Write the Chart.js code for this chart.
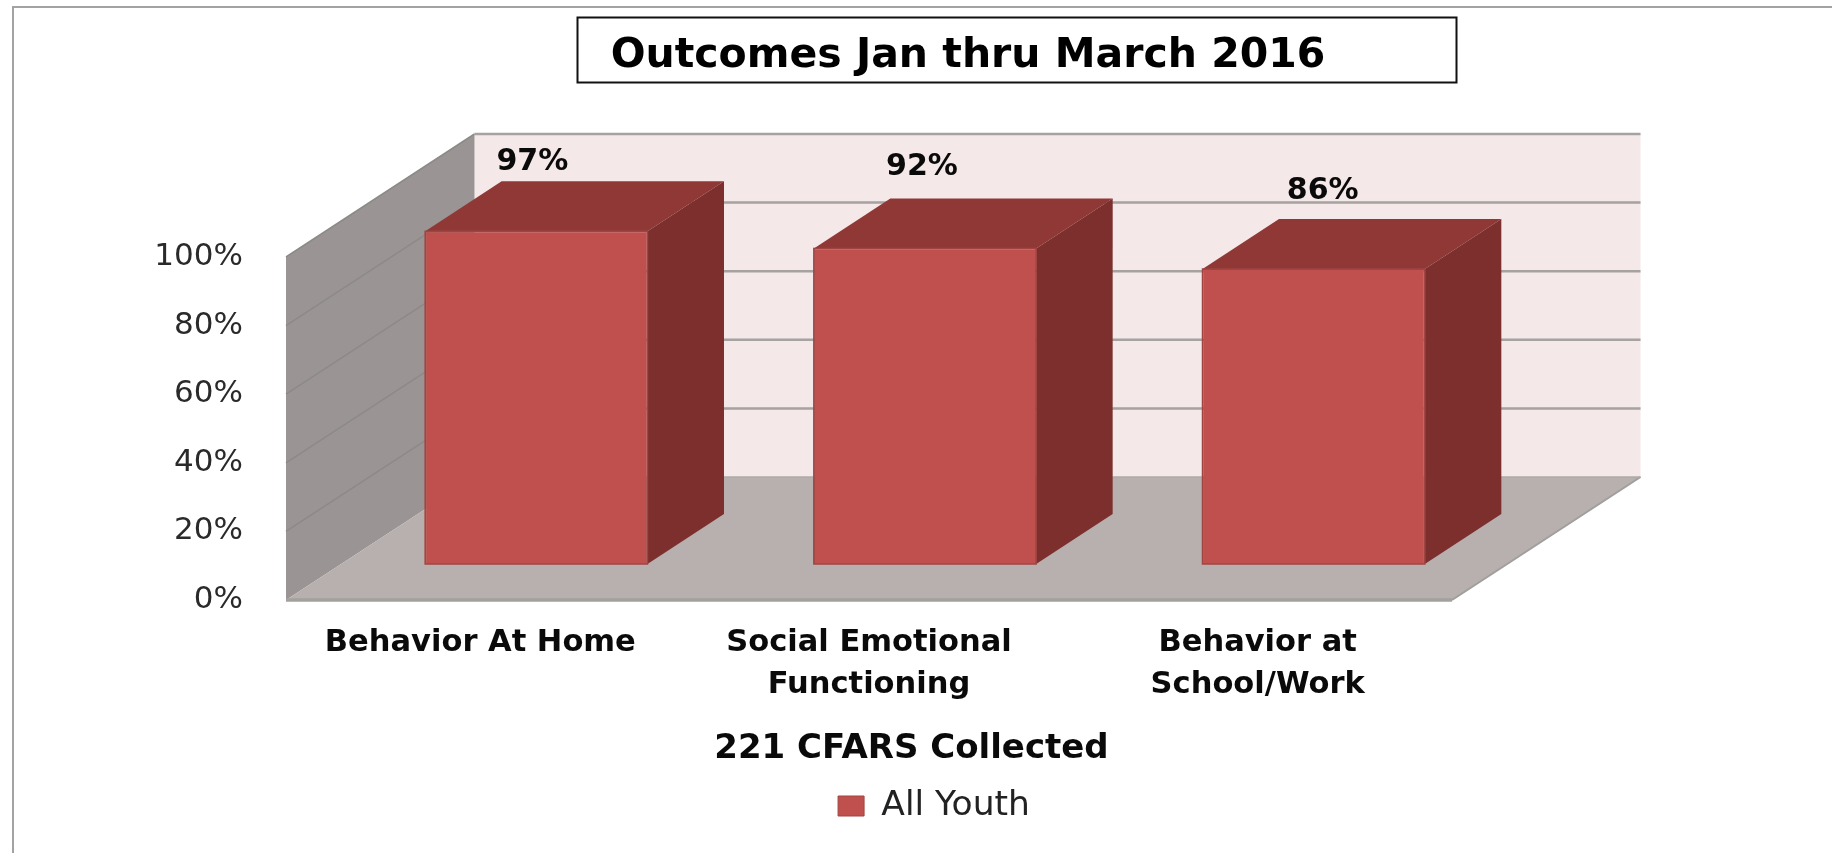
<!DOCTYPE html>
<html>
<head>
<meta charset="utf-8">
<style>html,body{margin:0;padding:0;background:#fff;overflow:hidden}canvas{display:block}</style>
<script src="https://cdn.jsdelivr.net/npm/chart.js@4/dist/chart.umd.min.js"></script>
</head>
<body>
<canvas id="c" width="1832" height="853"></canvas>
<script>
const categories = [["Behavior At Home"], ["Social Emotional", "Functioning"], ["Behavior at", "School/Work"]];
const seriesName = "All Youth";
const values = [97, 92, 86];
const chartTitle = "Outcomes Jan thru March 2016";
const axisTitle = "221 CFARS Collected";

const FONT = "'DejaVu Sans'";
// oblique projection of the Excel-style 3D chart
const wallDepth = {x: 188.5, y: 123};
const barInset = {x: 56, y: 36};
const barDepth = {x: 76.5, y: 50};
const labelNudge = [{x: -4, y: -69}, {x: -3, y: -81}, {x: 9, y: -78}];

function poly(ctx, pts, fill) {
  ctx.beginPath();
  pts.forEach((p, i) => i ? ctx.lineTo(p[0], p[1]) : ctx.moveTo(p[0], p[1]));
  ctx.closePath();
  ctx.fillStyle = fill;
  ctx.fill();
}
function seg(ctx, a, b, color, w) {
  ctx.beginPath();
  ctx.moveTo(a[0], a[1]);
  ctx.lineTo(b[0], b[1]);
  ctx.strokeStyle = color;
  ctx.lineWidth = w;
  ctx.stroke();
}

const scene3d = {
  id: "scene3d",
  afterLayout(chart) {
    chart.titleBlock.left += 242;
    chart.titleBlock.right += 242;
    const lg = chart.legend;
    const h = lg.height;
    lg.left += 208; lg.right += 208;
    lg.top = 806 - h / 2; lg.bottom = lg.top + h;
    const x = chart.scales.x;
    if (!x._patched) {
      x._patched = true;
      const orig = x.drawTitle.bind(x);
      x.drawTitle = function () {
        const c = chart.ctx;
        const half = x.options.title.font.size * x.options.title.font.lineHeight / 2;
        c.save();
        c.translate(42.5, 749 - (x.bottom - half));
        orig();
        c.restore();
      };
    }
  },
  beforeDraw(chart) {
    const c = chart.ctx;
    c.save();
    c.fillStyle = "#fff";
    c.fillRect(0, 0, chart.width, chart.height);
    seg(c, [13, 7], [chart.width, 7], "#a3a3a3", 2);
    seg(c, [13, 6], [13, chart.height], "#a3a3a3", 2);
    c.strokeStyle = "#111";
    c.lineWidth = 2;
    c.strokeRect(577.5, 17.5, 879, 65);
    c.restore();
  },
  beforeDatasetsDraw(chart) {
    const c = chart.ctx, y = chart.scales.y, a = chart.chartArea;
    const d = wallDepth;
    const yTop = y.getPixelForValue(100), yBot = y.getPixelForValue(0);
    const L = a.left, R = a.right;
    c.save();
    poly(c, [[L + d.x, yTop - d.y], [R + d.x, yTop - d.y], [R + d.x, yBot - d.y], [L + d.x, yBot - d.y]], "#f4e8e8");
    poly(c, [[L, yBot], [L, yTop], [L + d.x, yTop - d.y], [L + d.x, yBot - d.y]], "#9a9594");
    poly(c, [[L, yBot], [R, yBot], [R + d.x, yBot - d.y], [L + d.x, yBot - d.y]], "#b8afaf");
    y.ticks.forEach(t => {
      const p = y.getPixelForValue(t.value);
      if (t.value > 0) {
        seg(c, [L, p], [L + d.x, p - d.y], "#8c8a87", 1.5);
        seg(c, [L + d.x, p - d.y], [R + d.x, p - d.y], "#a5a2a1", 2.5);
      }
    });
    seg(c, [L, yBot], [R, yBot], "#a3a09e", 3.5);
    seg(c, [R, yBot], [R + d.x, yBot - d.y], "#a09f9d", 2);
    seg(c, [L + d.x, yBot - d.y], [R + d.x, yBot - d.y], "#aeaaa9", 1.5);
    c.restore();
  },
  beforeDatasetDraw(chart, args) {
    const c = chart.ctx;
    const bd = barDepth;
    c.save();
    c.translate(barInset.x, -barInset.y);
    chart.getDatasetMeta(args.index).data.forEach(b => {
      const p = b.getProps(["x", "y", "base", "width"], true);
      const l = p.x - p.width / 2, r = p.x + p.width / 2;
      poly(c, [[l, p.y], [r, p.y], [r + bd.x, p.y - bd.y], [l + bd.x, p.y - bd.y]], "#8f3836");
      poly(c, [[r, p.y], [r + bd.x, p.y - bd.y], [r + bd.x, p.base - bd.y], [r, p.base]], "#7c2f2d");
    });
  },
  afterDatasetDraw(chart, args) {
    const c = chart.ctx;
    chart.getDatasetMeta(args.index).data.forEach(b => {
      const p = b.getProps(["x", "y", "base", "width"], true);
      c.strokeStyle = "#a14441";
      c.lineWidth = 1.5;
      c.strokeRect(p.x - p.width / 2, p.y, p.width, p.base - p.y);
    });
    c.restore();
    c.save();
    c.font = "bold 30px " + FONT;
    c.fillStyle = "#0a0a0a";
    c.textAlign = "center";
    c.textBaseline = "middle";
    chart.getDatasetMeta(args.index).data.forEach((b, i) => {
      const p = b.getProps(["x", "y"], true);
      c.fillText(values[i] + "%", p.x + barInset.x + labelNudge[i].x, p.y - barInset.y + labelNudge[i].y);
    });
    c.restore();
  }
};

const chart = new Chart(document.getElementById("c"), {
  type: "bar",
  data: {
    labels: categories,
    datasets: [{
      label: seriesName,
      data: values,
      backgroundColor: "#c0504d",
      borderColor: "#a14441",
      borderWidth: 1,
      barPercentage: 1,
      categoryPercentage: 0.572,
      clip: false
    }]
  },
  plugins: [scene3d],
  options: {
    responsive: false,
    animation: false,
    layout: {padding: {left: 0, right: 380, top: 0, bottom: 0}},
    plugins: {
      tooltip: {enabled: false},
      title: {
        display: true,
        text: chartTitle,
        color: "#000",
        font: {family: FONT, size: 41, weight: "bold", lineHeight: 1.2},
        padding: {top: 32, bottom: 175.8}
      },
      legend: {
        position: "bottom",
        labels: {
          color: "#222",
          boxWidth: 26,
          boxHeight: 20,
          font: {family: FONT, size: 34.5},
          padding: 10
        }
      }
    },
    scales: {
      y: {
        min: 0, max: 100,
        afterFit(s) { s.width = 286; },
        grid: {display: false, drawTicks: false},
        border: {display: false},
        ticks: {
          stepSize: 20,
          padding: 43,
          color: "#2a2a2a",
          font: {family: FONT, size: 31},
          callback: v => v + "%"
        }
      },
      x: {
        afterFit(s) { s.height = 253 - s.chart.legend.height; },
        grid: {display: false, drawTicks: false},
        border: {display: false},
        ticks: {
          padding: 22,
          maxRotation: 0,
          autoSkip: false,
          color: "#0a0a0a",
          font: {family: FONT, size: 30.5, weight: "bold", lineHeight: 1.38}
        },
        title: {
          display: true,
          text: axisTitle,
          color: "#0a0a0a",
          padding: 0,
          font: {family: FONT, size: 34, weight: "bold", lineHeight: 1.2}
        }
      }
    }
  }
});
</script>
</body>
</html>
